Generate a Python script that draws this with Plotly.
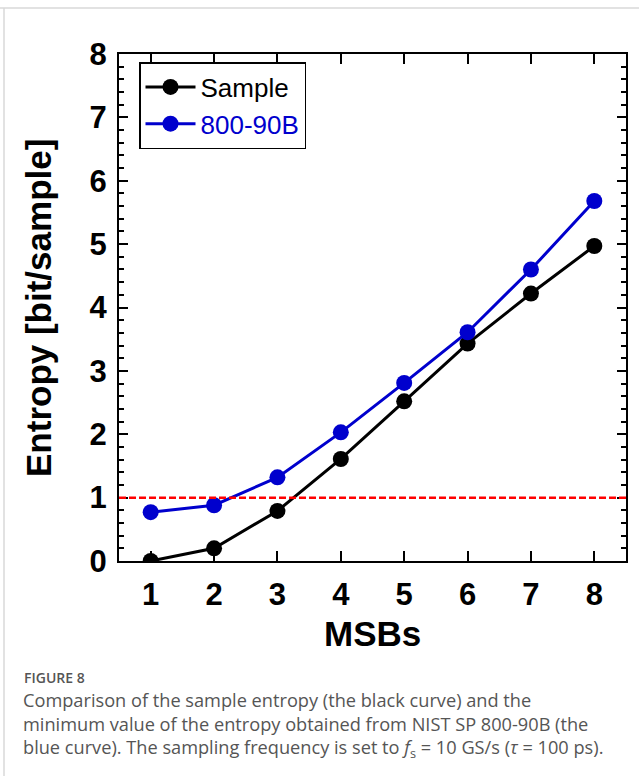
import plotly.graph_objects as go

# Number of most-significant bits retained
msbs = [1, 2, 3, 4, 5, 6, 7, 8]
# Sample entropy (black curve)
sample_entropy = [0.0, 0.2, 0.79, 1.61, 2.52, 3.43, 4.22, 4.97]
# Minimum entropy from NIST SP 800-90B (blue curve)
nist_entropy = [0.77, 0.88, 1.32, 2.03, 2.81, 3.61, 4.60, 5.68]
# Reference level of 1 bit/sample
threshold = 1.0

W, H = 639, 776
ML, MR, MT, MB = 119, 13, 54, 215
PW = W - ML - MR
PH = H - MT - MB


def px_x(px):
    return (px - ML) / PW


def px_y(py):
    return (H - MB - py) / PH


BLUE = "#0000CD"
tick_font = dict(family="Liberation Sans, Arial, sans-serif", size=31, color="black", weight="bold")
title_font = dict(family="Liberation Sans, Arial, sans-serif", size=35, color="black", weight="bold")

fig = go.Figure()
fig.add_trace(go.Scatter(
    x=msbs, y=sample_entropy, mode="lines+markers", name="Sample",
    line=dict(color="black", width=3),
    marker=dict(color="black", size=16, symbol="circle"),
))
fig.add_trace(go.Scatter(
    x=msbs, y=nist_entropy, mode="lines+markers",
    name=f"<span style='color:{BLUE}'>800-90B</span>",
    line=dict(color=BLUE, width=3),
    marker=dict(color=BLUE, size=16, symbol="circle"),
))

# dashed red reference line across the full plot width
fig.add_shape(type="line", xref="paper", x0=0, x1=1, yref="y", y0=threshold, y1=threshold,
              line=dict(color="red", width=2.5, dash="7px,3px"), layer="above")

# light frame around the figure panel
fig.add_shape(type="line", xref="paper", yref="paper",
              x0=px_x(0), x1=px_x(W), y0=px_y(8), y1=px_y(8),
              line=dict(color="#d8d8d8", width=1.5))
fig.add_shape(type="line", xref="paper", yref="paper",
              x0=px_x(4), x1=px_x(4), y0=px_y(8), y1=px_y(H),
              line=dict(color="#d8d8d8", width=1.5))

fig.update_xaxes(
    range=[0.5, 8.5], tickmode="array", tickvals=msbs, ticktext=[str(m) for m in msbs],
    ticks="inside", ticklen=10, tickwidth=1.5, tickcolor="black",
    showline=True, linecolor="black", linewidth=2, mirror="ticks",
    showgrid=False, zeroline=False, tickfont=tick_font, ticklabelstandoff=5,
)
fig.update_yaxes(
    range=[0, 8], dtick=1, tick0=0,
    ticks="inside", ticklen=9, tickwidth=1.5, tickcolor="black",
    minor=dict(dtick=0.2, ticks="inside", ticklen=5, tickwidth=1.5, tickcolor="black", showgrid=False),
    showline=True, linecolor="black", linewidth=2, mirror="ticks",
    showgrid=False, zeroline=False, tickfont=tick_font, ticklabelstandoff=4,
)

# axis titles
fig.add_annotation(text="MSBs", xref="paper", yref="paper", x=0.5, y=px_y(633),
                   showarrow=False, font=title_font, xanchor="center", yanchor="middle")
fig.add_annotation(text="Entropy [bit/sample]", xref="paper", yref="paper", x=px_x(38), y=px_y(308),
                   showarrow=False, font=title_font, textangle=-90, xanchor="center", yanchor="middle")

# caption
fig.add_annotation(text="FIGURE 8", xref="paper", yref="paper", x=px_x(22), y=px_y(677),
                   showarrow=False, xanchor="left", yanchor="middle",
                   font=dict(family="Open Sans, sans-serif", size=14, color="#555555", weight=600))
caption_lines = [
    "Comparison of the sample entropy (the black curve) and the",
    "minimum value of the entropy obtained from NIST SP 800-90B (the",
    "blue curve). The sampling frequency is set to <i>f</i><sub>s</sub> = 10 GS/s (<i>τ</i> = 100 ps).",
]
fig.add_annotation(text="<br>".join(caption_lines), xref="paper", yref="paper",
                   x=px_x(21), y=px_y(686), showarrow=False, xanchor="left", yanchor="top",
                   align="left",
                   font=dict(family="Open Sans, sans-serif", size=18.2, color="#555555"))

fig.update_layout(
    width=W, height=H, margin=dict(l=ML, r=MR, t=MT, b=MB),
    paper_bgcolor="white", plot_bgcolor="white",
    showlegend=True,
    legend=dict(
        x=px_x(139), y=px_y(62), xanchor="left", yanchor="top",
        bgcolor="white", bordercolor="black", borderwidth=1.5,
        font=dict(family="Liberation Sans, Arial, sans-serif", size=26, color="black"),
        tracegroupgap=0, itemwidth=50,
    ),
)

fig.write_html("out.html")
